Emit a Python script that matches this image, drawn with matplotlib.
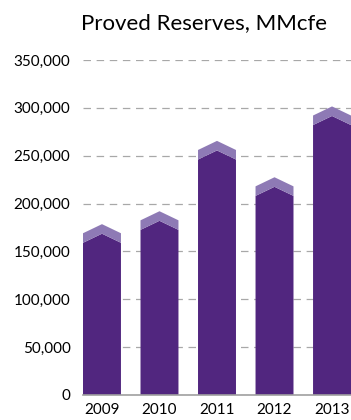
import matplotlib
matplotlib.use('Agg')
import matplotlib.pyplot as plt
import numpy as np

# data
years = ['2009', '2010', '2011', '2012', '2013']
reserves = [159000, 172500, 246000, 208000, 282000]   # top of the flat part of each bar
yticks = [0, 50000, 100000, 150000, 200000, 250000, 300000, 350000]

# style
dark = '#51267f'
light = '#8e7ab5'
bar_w = 0.66
rise = 9500      # height of the chevron point
band = 10000     # thickness of the light cap

plt.rcParams['font.family'] = ['Lato', 'DejaVu Sans']

fig = plt.figure(figsize=(3.51, 4.2), dpi=100)
ax = fig.add_axes([83/351, 25/420, 1 - 83/351, 335/420])

x = np.arange(len(years))
for xi, v in zip(x, reserves):
    l, r = xi - bar_w/2, xi + bar_w/2
    ax.fill([l, l, xi, r, r], [0, v, v + rise, v, 0],
            color=dark, lw=0, zorder=3)
    ax.fill([l, xi, r, r, xi, l],
            [v, v + rise, v, v + band, v + rise + band, v + band],
            color=light, lw=0, zorder=3)

ax.set_xlim(-bar_w/2, len(years) - 1 + bar_w/2)
ax.set_ylim(0, 350000)
ax.set_yticks(yticks)
ax.set_yticklabels(['{:,}'.format(t) for t in yticks])
ax.set_xticks(x)
ax.set_xticklabels(years)
ax.tick_params(axis='y', length=0, pad=9, labelsize=11, colors='black')
ax.tick_params(axis='x', length=0, pad=6, labelsize=11, colors='black')

ax.grid(axis='y', color='#a8a8a8', linestyle=(0, (6, 4.5)), linewidth=0.9, zorder=0)
ax.set_axisbelow(True)
for s in ['top', 'right', 'left']:
    ax.spines[s].set_visible(False)
ax.spines['bottom'].set_color('#a0a0a0')
ax.spines['bottom'].set_linewidth(1.2)
ax.spines['bottom'].set_zorder(4)

fig.text(204/351, 1 - 23/420, 'Proved Reserves, MMcfe', ha='center', va='center',
         fontsize=16, color='black')

fig.savefig('out.png', dpi=100)
